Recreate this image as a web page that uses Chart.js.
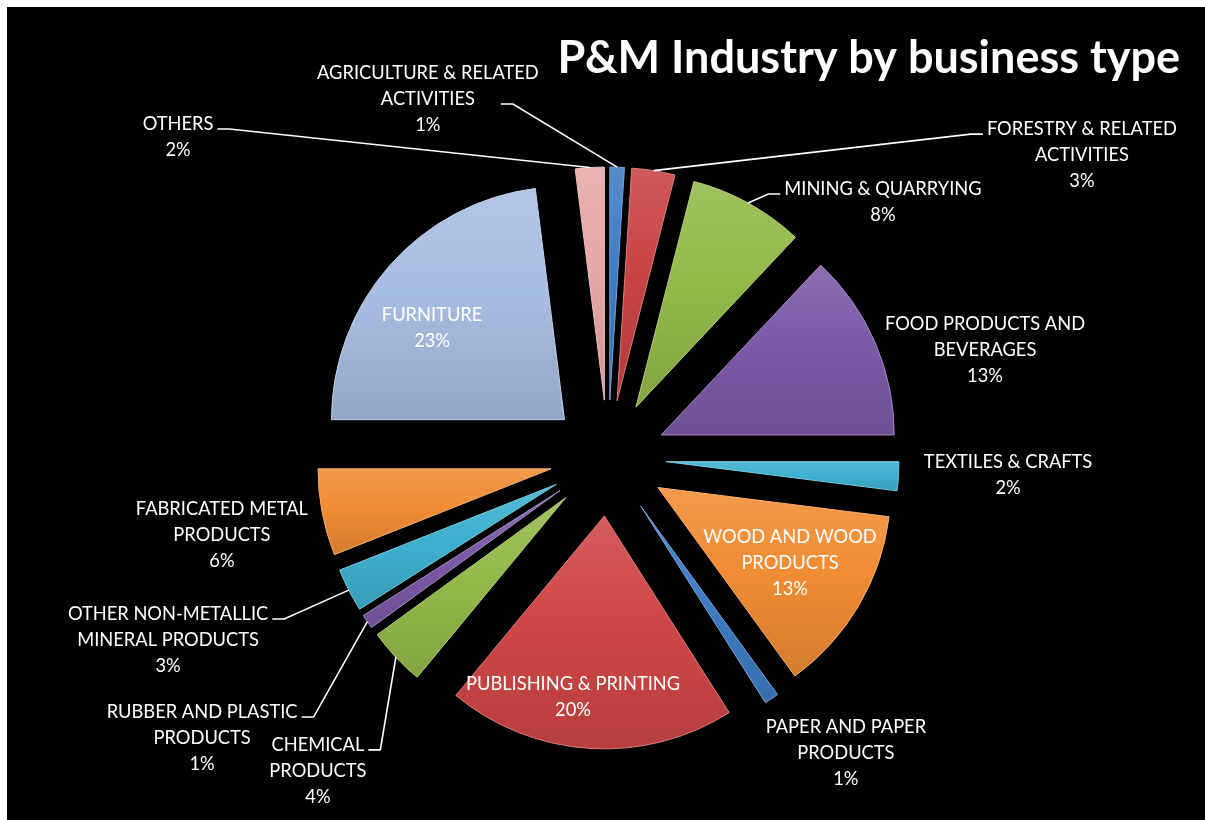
<!DOCTYPE html>
<html lang="en">
<head>
<meta charset="UTF-8">
<title>P&amp;M Industry by business type</title>
<style>
  html, body { margin: 0; padding: 0; background: #fff; }
  #wrap { width: 1205px; height: 820px; }
</style>
</head>
<body>
<div id="wrap"><canvas id="pieChart"></canvas></div>
<script src="https://cdn.jsdelivr.net/npm/chart.js"></script>
<script>
// data, clockwise from 12 o'clock
const categories = [
  ['AGRICULTURE & RELATED', 'ACTIVITIES'],
  ['FORESTRY & RELATED', 'ACTIVITIES'],
  ['MINING & QUARRYING'],
  ['FOOD PRODUCTS AND', 'BEVERAGES'],
  ['TEXTILES & CRAFTS'],
  ['WOOD AND WOOD', 'PRODUCTS'],
  ['PAPER AND PAPER', 'PRODUCTS'],
  ['PUBLISHING & PRINTING'],
  ['CHEMICAL', 'PRODUCTS'],
  ['RUBBER AND PLASTIC', 'PRODUCTS'],
  ['OTHER NON-METALLIC', 'MINERAL PRODUCTS'],
  ['FABRICATED METAL', 'PRODUCTS'],
  ['FURNITURE'],
  ['OTHERS']
];
const shares = [1, 3, 8, 13, 2, 13, 1, 20, 4, 1, 3, 6, 23, 2];

const sliceColors = [
  '#3f7cc4', '#c84444', '#93b94a', '#7d5aa8', '#3eb0cf', '#f08c34',
  '#3f7cc4', '#cf4747', '#93b94a', '#7d5aa8', '#3eb0cf', '#f08c34',
  '#a8bde2', '#e6a7a7'
];

// label placement relative to pie centre, in pie radii; line = which text line the leader attaches to
const labelPlacement = [
  { ux: -0.773, uy: -1.541, leader: true, line: 1, gap: 26 },
  { ux: 2.034, uy: -1.300, leader: true, line: 0, gap: 4 },
  { ux: 1.180, uy: -1.099, leader: true, line: 0, gap: 4 },
  { ux: 1.618, uy: -0.464 },
  { ux: 1.717, uy: 0.073 },
  { ux: 0.781, uy: 0.451 },
  { ux: 1.021, uy: 1.266 },
  { ux: -0.150, uy: 1.026 },
  { ux: -1.245, uy: 1.343, leader: true, line: 0, gap: 4 },
  { ux: -1.742, uy: 1.202, leader: true, line: 0, gap: 4 },
  { ux: -1.888, uy: 0.781, leader: true, line: 0, gap: 4 },
  { ux: -1.657, uy: 0.330 },
  { ux: -0.755, uy: -0.558 },
  { ux: -1.845, uy: -1.378, leader: true, line: 0, gap: 4 }
];

const PIE_RADIUS = 233;
const OFFSET_PX = 58;
const LABEL_FONT = '18.3px Lato';
const LINE_H = 26;

const total = shares.reduce((a, b) => a + b, 0);

function shade(hex, amt) {
  const n = parseInt(hex.slice(1), 16);
  const t = amt < 0 ? 0 : 255, p = Math.abs(amt);
  const c = [n >> 16, (n >> 8) & 255, n & 255].map(v => Math.round((t - v) * p + v));
  return 'rgb(' + c.join(',') + ')';
}

// vertical light-to-dark gradient over each slice, to fake the bevel look
function sliceFill(context) {
  const chart = context.chart;
  const area = chart.chartArea;
  const i = context.dataIndex;
  const base = sliceColors[i];
  if (!area) return base;
  const cy = (area.top + area.bottom) / 2;
  let before = 0;
  for (let k = 0; k < i; k++) before += shares[k];
  const a0 = before / total * 2 * Math.PI - Math.PI / 2;
  const a1 = (before + shares[i]) / total * 2 * Math.PI - Math.PI / 2;
  const mid = (a0 + a1) / 2;
  const ay = cy + Math.sin(mid) * OFFSET_PX;
  const ys = [ay, ay + Math.sin(a0) * PIE_RADIUS, ay + Math.sin(a1) * PIE_RADIUS];
  [Math.PI / 2, 3 * Math.PI / 2].forEach(q => { if (q > a0 && q < a1) ys.push(ay + Math.sin(q) * PIE_RADIUS); });
  const g = chart.ctx.createLinearGradient(0, Math.min(...ys), 0, Math.max(...ys) + 1);
  g.addColorStop(0, shade(base, 0.12));
  g.addColorStop(0.45, base);
  g.addColorStop(1, shade(base, -0.12));
  return g;
}

const framePlugin = {
  id: 'frame',
  beforeDraw(chart) {
    const ctx = chart.ctx;
    ctx.save();
    ctx.fillStyle = '#fff';
    ctx.fillRect(0, 0, chart.width, chart.height);
    ctx.fillStyle = '#000';
    ctx.fillRect(7, 7, chart.width - 7, chart.height - 7);
    ctx.restore();
  },
  afterDraw(chart) {
    const ctx = chart.ctx;
    ctx.save();
    ctx.fillStyle = '#fff';
    ctx.font = 'bold 45px Lato';
    ctx.textAlign = 'right';
    ctx.textBaseline = 'alphabetic';
    ctx.fillText('P&M Industry by business type', 1180, 73);
    ctx.restore();
  }
};

// explode every slice outward along its bisector
const explodePlugin = {
  id: 'explode',
  afterDatasetsUpdate(chart) {
    chart.getDatasetMeta(0).data.forEach(arc => {
      const mid = (arc.startAngle + arc.endAngle) / 2;
      arc.x += Math.cos(mid) * OFFSET_PX;
      arc.y += Math.sin(mid) * OFFSET_PX;
    });
  }
};

const labelPlugin = {
  id: 'sliceLabels',
  afterDatasetsDraw(chart) {
    const ctx = chart.ctx;
    const area = chart.chartArea;
    const arcs = chart.getDatasetMeta(0).data;
    const cx = (area.left + area.right) / 2, cy = (area.top + area.bottom) / 2;
    ctx.save();
    ctx.font = LABEL_FONT;
    ctx.fillStyle = '#fff';
    ctx.strokeStyle = '#fff';
    ctx.lineWidth = 1.6;
    ctx.textAlign = 'center';
    ctx.textBaseline = 'middle';
    arcs.forEach((arc, i) => {
      const p = labelPlacement[i];
      const lines = categories[i].concat([Math.round(shares[i] / total * 100) + '%']);
      const lx = cx + p.ux * PIE_RADIUS, ly = cy + p.uy * PIE_RADIUS;
      const y0 = ly - (lines.length - 1) / 2 * LINE_H;
      lines.forEach((t, k) => ctx.fillText(t, lx, y0 + k * LINE_H));
      if (!p.leader) return;
      const mid = (arc.startAngle + arc.endAngle) / 2;
      const tx = arc.x + Math.cos(mid) * arc.outerRadius;
      const ty = arc.y + Math.sin(mid) * arc.outerRadius;
      const w = ctx.measureText(lines[p.line]).width;
      const dir = tx > lx ? 1 : -1;
      const sx = lx + dir * (w / 2 + p.gap);
      const sy = y0 + p.line * LINE_H + 5;
      ctx.beginPath();
      ctx.moveTo(sx, sy);
      ctx.lineTo(sx + dir * 12, sy);
      ctx.lineTo(tx, ty);
      ctx.stroke();
    });
    ctx.restore();
  }
};

new Chart(document.getElementById('pieChart'), {
  type: 'pie',
  data: {
    labels: categories,
    datasets: [{
      data: shares,
      backgroundColor: sliceFill,
      borderColor: sliceColors.map(c => shade(c, 0.3)),
      borderWidth: 1
    }]
  },
  options: {
    responsive: true,
    maintainAspectRatio: false,
    animation: false,
    events: [],
    radius: PIE_RADIUS,
    layout: { padding: { left: 36, right: 25, top: 96, bottom: 0 } },
    plugins: {
      legend: { display: false },
      title: { display: false },
      tooltip: { enabled: false }
    }
  },
  plugins: [framePlugin, explodePlugin, labelPlugin]
});
</script>
</body>
</html>
